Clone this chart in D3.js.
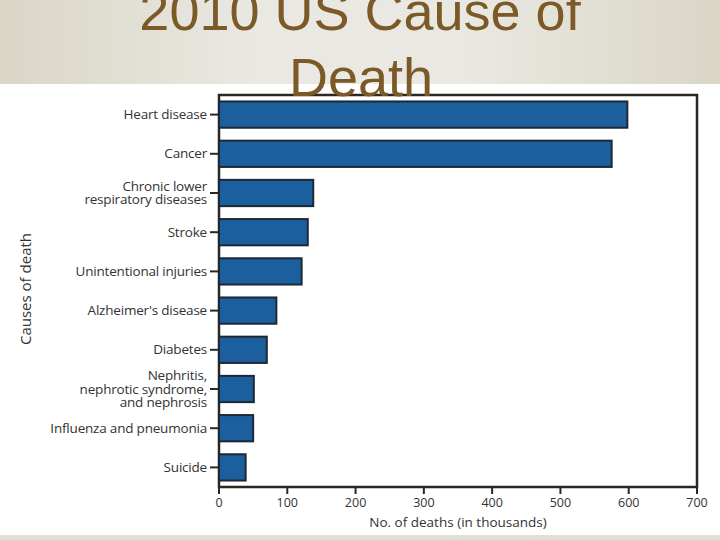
<!DOCTYPE html>
<html>
<head>
  <meta charset="utf-8">
  <title>2010 US Cause of Death</title>
  <script src="https://d3js.org/d3.v7.min.js"></script>
  <style>
    body { margin: 0; background: #fff; }
    svg { display: block; }
  </style>
</head>
<body>
  <div class="chart"></div>
  <script>
    // data (thousands of deaths)
    var causes = [
      ["Heart disease"],
      ["Cancer"],
      ["Chronic lower", "respiratory diseases"],
      ["Stroke"],
      ["Unintentional injuries"],
      ["Alzheimer's disease"],
      ["Diabetes"],
      ["Nephritis,", "nephrotic syndrome,", "and nephrosis"],
      ["Influenza and pneumonia"],
      ["Suicide"]
    ];
    var deaths = [598, 575, 138, 130, 121, 84, 70, 51, 50, 39];
    var xTicks = [0, 100, 200, 300, 400, 500, 600, 700];

    var W = 720, H = 540;
    var margin = {top: 95, right: 23, bottom: 53, left: 219};
    var width = W - margin.left - margin.right;
    var height = H - margin.top - margin.bottom;

    var svg = d3.select(".chart").append("svg")
      .attr("width", W)
      .attr("height", H);

    // slide background
    var defs = svg.append("defs");
    var grad = defs.append("linearGradient").attr("id", "band");
    grad.append("stop").attr("offset", "0%").attr("stop-color", "#dad6c6");
    grad.append("stop").attr("offset", "35%").attr("stop-color", "#e9e8e2");
    grad.append("stop").attr("offset", "65%").attr("stop-color", "#e9e8e2");
    grad.append("stop").attr("offset", "100%").attr("stop-color", "#dad6c6");

    svg.append("rect").attr("width", W).attr("height", 84).attr("fill", "url(#band)");
    svg.append("rect").attr("y", 535).attr("width", W).attr("height", 5).attr("fill", "#e2dfd3");

    var idx = d3.range(causes.length);
    var x = d3.scaleLinear().domain([0, 700]).range([0, width]);
    var y = d3.scaleBand().domain(idx).range([0, height])
      .paddingInner(0.33).paddingOuter(0.165);

    var g = svg.append("g")
      .attr("transform", "translate(" + margin.left + "," + margin.top + ")");

    // frame
    g.append("rect")
      .attr("width", width)
      .attr("height", height)
      .attr("fill", "#fff")
      .attr("stroke", "#2b2724")
      .attr("stroke-width", 2.5);

    // bars
    g.selectAll(".bar")
      .data(idx)
      .enter().append("rect")
        .attr("class", "bar")
        .attr("x", x(0))
        .attr("y", function(i) { return y(i); })
        .attr("width", function(i) { return x(deaths[i]); })
        .attr("height", y.bandwidth())
        .attr("fill", "#1b5f9f")
        .attr("stroke", "#1d2834")
        .attr("stroke-width", 2);

    // y axis ticks + labels
    var yAxis = g.append("g").attr("class", "axis axis--y");
    yAxis.selectAll("line")
      .data(idx)
      .enter().append("line")
        .attr("x1", -9).attr("x2", 0)
        .attr("y1", function(i) { return y(i) + y.bandwidth() / 2; })
        .attr("y2", function(i) { return y(i) + y.bandwidth() / 2; })
        .attr("stroke", "#2b2724")
        .attr("stroke-width", 2);

    var lbl = yAxis.selectAll("text")
      .data(idx)
      .enter().append("text")
        .attr("x", -12)
        .attr("y", function(i) { return y(i) + y.bandwidth() / 2; })
        .attr("text-anchor", "end")
        .style("font", "13.5px 'Open Sans'")
        .style("letter-spacing", "-0.2px")
        .style("fill", "#333");

    lbl.each(function(i) {
      var lines = causes[i];
      var t = d3.select(this);
      var lh = 13.5;
      var start = -(lines.length - 1) * lh / 2;
      lines.forEach(function(s, k) {
        t.append("tspan")
          .attr("x", -12)
          .attr("dy", k === 0 ? (start + 4.5) : lh)
          .text(s);
      });
    });

    // x axis
    var xAxis = g.append("g")
      .attr("class", "axis axis--x")
      .attr("transform", "translate(0," + height + ")");
    xAxis.selectAll("line")
      .data(xTicks)
      .enter().append("line")
        .attr("x1", function(d) { return x(d); })
        .attr("x2", function(d) { return x(d); })
        .attr("y1", 0).attr("y2", 7)
        .attr("stroke", "#2b2724")
        .attr("stroke-width", 2);
    xAxis.selectAll("text")
      .data(xTicks)
      .enter().append("text")
        .attr("x", function(d) { return x(d); })
        .attr("y", 20)
        .attr("text-anchor", "middle")
        .style("font", "12.5px 'Open Sans'")
        .style("fill", "#333")
        .text(function(d) { return d; });

    // axis titles
    svg.append("text")
      .attr("x", margin.left + width / 2)
      .attr("y", 527)
      .attr("text-anchor", "middle")
      .style("font", "13.5px 'Open Sans'")
      .style("fill", "#333")
      .text("No. of deaths (in thousands)");

    svg.append("text")
      .attr("transform", "translate(31,289) rotate(-90)")
      .attr("text-anchor", "middle")
      .style("font", "15px 'Open Sans'")
      .style("fill", "#333")
      .text("Causes of death");

    // slide title
    var title = svg.append("text")
      .attr("text-anchor", "middle")
      .style("font", "54px 'Liberation Sans', Arial, sans-serif")
      .style("fill", "#7b5a28");
    title.append("tspan").attr("x", 360).attr("y", 30).text("2010 US Cause of");
    title.append("tspan").attr("x", 361).attr("y", 96).text("Death");
  </script>
</body>
</html>
